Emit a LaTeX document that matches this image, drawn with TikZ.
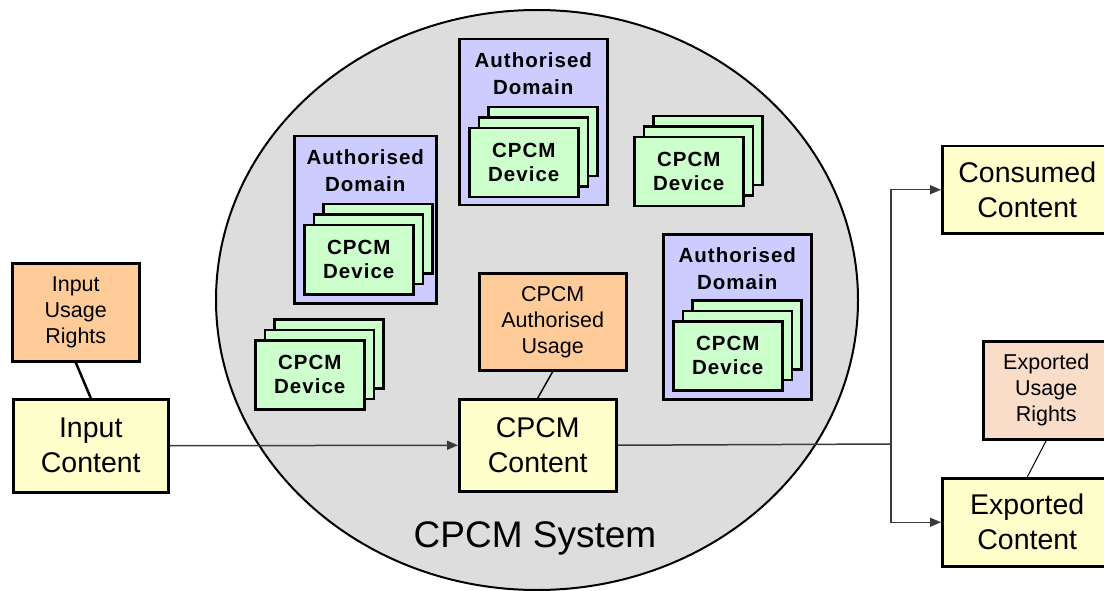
\documentclass[tikz,border=0pt]{standalone}
\usepackage{fontspec}
\setmainfont{Liberation Sans}
\usetikzlibrary{shapes.geometric,arrows.meta}
\definecolor{usageorange}{HTML}{FFCC99}
\definecolor{exportorange}{HTML}{FADDC8}
\definecolor{contentyellow}{HTML}{FFFFCC}
\definecolor{domainblue}{HTML}{CCCCFF}
\definecolor{cardgreen}{HTML}{CCFFCC}
\definecolor{sysgray}{HTML}{DDDDDD}
\definecolor{linegray}{HTML}{3A3A3A}
\newcommand\widebold{\bfseries\addfontfeatures{LetterSpace=5}}
\tikzset{
  box/.style={draw=black, line width=2.5pt, rectangle, anchor=north west, align=center, inner sep=0pt},
  contentbox/.style={box, fill=contentyellow, font=\fontsize{28.5}{35}\selectfont},
  rightsbox/.style={box, fill=usageorange, font=\fontsize{21.5}{26}\selectfont},
  cardbox/.style={box, fill=cardgreen, minimum width=109pt, minimum height=69pt, font=\fontsize{20.5}{24}\selectfont\widebold},
  domainbox/.style={box, fill=domainblue},
  domaintitle/.style={anchor=north, inner sep=0pt, yshift=-14pt, align=center, font=\fontsize{20.5}{27}\selectfont\widebold},
  flow/.style={draw=linegray, line width=1.5pt},
  flowarrow/.style={flow, -{Triangle[length=11pt,width=9pt]}},
  tie/.style={draw=black, line width=1.5pt},
}
\newcommand\devstack[3]{%
  \node[cardbox] (#1c) at (#2+19,#3-21) {};
  \node[cardbox] (#1b) at (#2+9.5,#3-10.5) {};
  \node[cardbox] (#1) at (#2,#3) {CPCM\\Device};}
\begin{document}
\begin{tikzpicture}[x=1pt,y=-1pt]
\useasboundingbox (0,0) rectangle (1104,591);
\fill[white] (0,0) rectangle (1104,591);
\clip (0,0) rectangle (1104,591);
% system ellipse
\node[draw=black, line width=2pt, fill=sysgray, ellipse, inner sep=0pt,
      minimum width=642pt, minimum height=580pt] (sys) at (537,300) {};
\node[anchor=base, inner sep=0pt, font=\fontsize{37}{40}\selectfont] (systitle) at (535,547) {CPCM System};
% domains
\node[domainbox, minimum width=142pt, minimum height=167pt,
      label={[domaintitle]north:Authorised\\Domain}] (ad1) at (293,135) {};
\node[domainbox, minimum width=148pt, minimum height=166pt,
      label={[domaintitle]north:Authorised\\Domain}] (ad2) at (458,38) {};
\node[domainbox, minimum width=148pt, minimum height=165pt,
      label={[domaintitle]north:Authorised\\Domain}] (ad3) at (662,233) {};
% devices
\devstack{dev1}{303}{224}
\devstack{dev2}{254}{339}
\devstack{dev3}{468}{127}
\devstack{dev4}{633}{136}
\devstack{dev5}{672}{320}
% content and rights
\node[rightsbox, minimum width=127pt, minimum height=98pt] (iur) at (11,262) {Input\\Usage\\Rights};
\node[contentbox, minimum width=155pt, minimum height=93pt] (ic) at (12,398) {Input\\Content};
\node[rightsbox, minimum width=147pt, minimum height=97pt] (cau) at (478,272) {CPCM\\Authorised\\Usage};
\node[contentbox, minimum width=157pt, minimum height=92pt] (cc) at (458,398) {CPCM\\Content};
\node[contentbox, minimum width=170pt, minimum height=87pt] (cons) at (941,145) {Consumed\\Content};
\node[rightsbox, fill=exportorange, minimum width=126pt, minimum height=98pt] (eur) at (982,340) {Exported\\Usage\\Rights};
\node[contentbox, minimum width=170pt, minimum height=88pt] (exp) at (941,477) {Exported\\Content};
% connectors
\draw[tie, line width=2.5pt] (iur.south) -- (ic.north);
\draw[tie] (cau.south) -- (cc.north);
\draw[tie, line width=1pt] (eur.south) -- (exp.north);
\draw[flowarrow] (ic.east) -- (cc.west);
\coordinate (split) at (891,444);
\draw[flow] (cc.east) -- (split);
\draw[flowarrow] (split) |- (cons.west);
\draw[flowarrow] (split) |- (exp.west);
\end{tikzpicture}
\end{document}
